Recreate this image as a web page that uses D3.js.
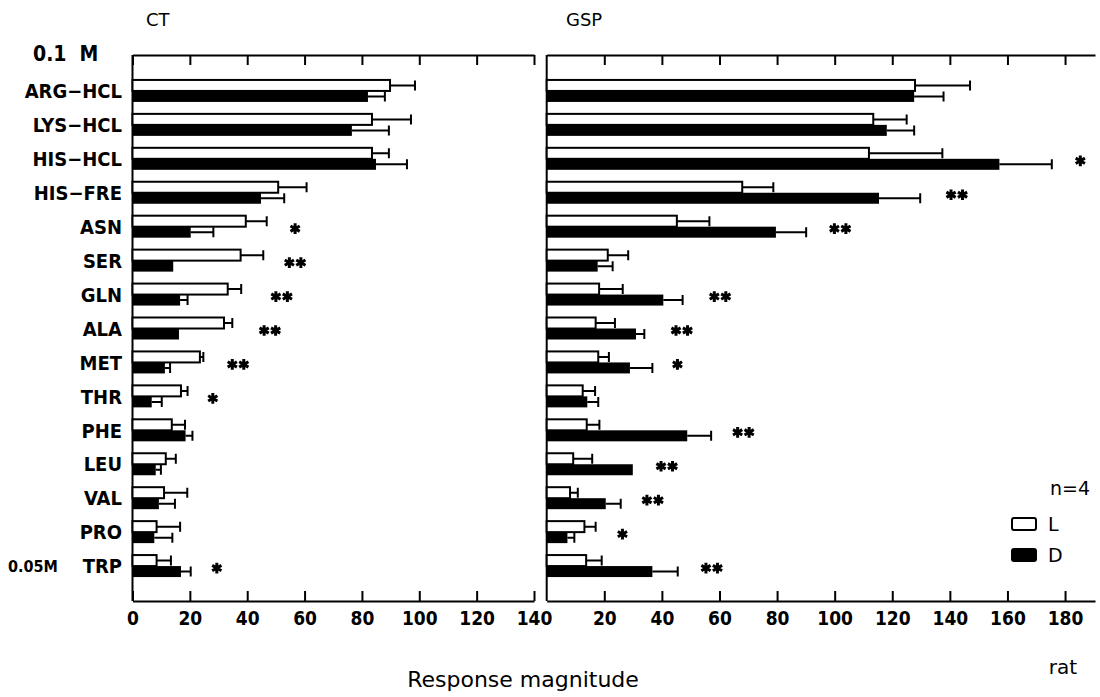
<!DOCTYPE html>
<html>
<head>
<meta charset="utf-8">
<script src="https://cdn.jsdelivr.net/npm/d3@7"></script>
<style>
  body { margin: 0; background: #fff; }
  svg { font-family: "DejaVu Sans", "Liberation Sans", Arial, sans-serif; }
  .cond { font-family: "DejaVu Sans Condensed", "DejaVu Sans", sans-serif; font-weight: bold; }
</style>
</head>
<body>
<div id="chart"></div>
<script>
// amino acid stimuli, top to bottom
const categories = ["ARG−HCL", "LYS−HCL", "HIS−HCL", "HIS−FRE", "ASN", "SER", "GLN", "ALA",
  "MET", "THR", "PHE", "LEU", "VAL", "PRO", "TRP"];

// CT responses (mean and SEM), L and D forms
const ctL    = [89.8, 83.5, 83.5, 50.8, 39.5, 37.7, 33.2, 31.9, 23.5, 16.9, 13.7, 11.6, 11.0, 8.4, 8.4];
const ctLSem = [8.7, 13.6, 5.9, 9.9, 7.3, 7.9, 4.7, 2.9, 1.2, 2.3, 4.6, 3.5, 8.1, 8.2, 5.0];
const ctD    = [82.1, 76.5, 84.9, 44.8, 20.3, 14.2, 16.6, 16.2, 11.3, 6.7, 18.5, 8.1, 9.2, 7.6, 16.9];
const ctDSem = [5.9, 12.9, 10.8, 8.1, 7.9, 0, 2.6, 0, 1.8, 3.5, 2.4, 1.8, 5.6, 6.3, 3.4];

// GSP responses
const gspL    = [127.9, 113.4, 111.9, 67.9, 45.2, 21.2, 18.2, 17.0, 17.9, 12.5, 13.9, 9.2, 8.1, 13.1, 13.7];
const gspLSem = [19.1, 11.6, 25.5, 10.8, 11.3, 7.1, 8.2, 6.7, 3.7, 4.3, 4.4, 6.6, 2.7, 3.9, 5.4];
const gspD    = [127.6, 118.1, 157.2, 115.4, 79.6, 17.7, 40.5, 31.0, 28.9, 14.1, 48.8, 29.9, 20.5, 7.2, 36.7];
const gspDSem = [10.2, 9.5, 18.2, 14.3, 10.5, 5.2, 6.7, 2.9, 7.8, 3.8, 8.3, 0, 5.2, 2.4, 8.8];

// significance marks and where they sit (response units)
const ctSig    = ["", "", "", "", "*", "**", "**", "**", "**", "*", "", "", "", "", "*"];
const ctSigAt  = [0, 0, 0, 0, 56.7, 56.7, 52.0, 47.9, 36.8, 28.0, 0, 0, 0, 0, 29.4];
const gspSig   = ["", "", "*", "**", "**", "", "**", "**", "*", "", "**", "**", "**", "*", "**"];
const gspSigAt = [0, 0, 185.3, 142.4, 101.9, 0, 60.2, 46.9, 45.4, 0, 68.3, 41.7, 36.8, 26.3, 57.3];

const ctTicks  = [0, 20, 40, 60, 80, 100, 120, 140];
const gspTicks = [20, 40, 60, 80, 100, 120, 140, 160, 180];

const width = 1100, height = 697;
const yTop = 55, yBottom = 601;
const barH = 11;

const svg = d3.select("#chart").append("svg")
  .attr("width", width)
  .attr("height", height);

const y = d3.scalePoint()
  .domain(categories)
  .range([yTop + 2, yBottom - 1])
  .padding(1);

const xCT = d3.scaleLinear().domain([0, 140]).range([132.5, 534]);
const xGSP = d3.scaleLinear().domain([0, 190.4]).range([546.7, 1095]);

function panel(x, ticks, L, LSem, D, DSem, sig, sigAt) {
  const g = svg.append("g");

  // frame: left edge plus top and bottom axes with inward ticks
  g.append("line")
    .attr("x1", x(0)).attr("x2", x(0))
    .attr("y1", yTop).attr("y2", yBottom)
    .attr("stroke", "#000").attr("stroke-width", 2);

  const axTop = g.append("g")
    .attr("transform", `translate(0,${yTop})`)
    .call(d3.axisTop(x).tickValues(ticks).tickSizeInner(-10).tickSizeOuter(0).tickFormat(""));
  const axBot = g.append("g")
    .attr("transform", `translate(0,${yBottom})`)
    .call(d3.axisBottom(x).tickValues(ticks).tickSizeInner(-10).tickSizeOuter(0).tickPadding(11));
  [axTop, axBot].forEach(a => {
    a.attr("font-family", null).attr("font-size", null);
    a.select(".domain").attr("stroke-width", 2);
    a.selectAll(".tick line").attr("stroke-width", 2);
    a.selectAll(".tick text")
      .attr("class", "cond")
      .style("font-size", "19px")
      .attr("fill", "#000");
  });

  const rows = categories.map((c, i) => ({
    c, l: L[i], ls: LSem[i], d: D[i], ds: DSem[i], sig: sig[i], at: sigAt[i]
  }));

  const row = g.selectAll("g.row").data(rows).enter().append("g")
    .attr("class", "row")
    .attr("transform", d => `translate(0,${y(d.c)})`);

  // error bars (drawn first, bars on top)
  function err(sel, val, sem, cy) {
    sel.filter(d => d[sem] > 0).append("path")
      .attr("d", d => `M${x(d[val])},${cy}H${x(d[val] + d[sem])}M${x(d[val] + d[sem])},${cy - 5}V${cy + 5}`)
      .attr("fill", "none")
      .attr("stroke", "#000")
      .attr("stroke-width", 2);
  }
  err(row, "l", "ls", -barH / 2);
  err(row, "d", "ds", barH / 2);

  row.append("rect")
    .attr("x", x(0))
    .attr("y", -barH)
    .attr("width", d => x(d.l) - x(0))
    .attr("height", barH)
    .attr("fill", "#fff")
    .attr("stroke", "#000")
    .attr("stroke-width", 2);

  row.append("rect")
    .attr("x", x(0))
    .attr("y", 0)
    .attr("width", d => x(d.d) - x(0))
    .attr("height", barH)
    .attr("fill", "#000");

  // asterisks
  const star = d3.symbol().type(d3.symbolAsterisk).size(80);
  row.filter(d => d.sig).each(function (d) {
    const n = d.sig.length;
    for (let k = 0; k < n; k++) {
      d3.select(this).append("path")
        .attr("d", star())
        .attr("transform", `translate(${x(d.at) + (k - (n - 1) / 2) * 11.5},2)`)
        .attr("fill", "none")
        .attr("stroke", "#000")
        .attr("stroke-width", 3);
    }
  });
}

panel(xCT, ctTicks, ctL, ctLSem, ctD, ctDSem, ctSig, ctSigAt);
panel(xGSP, gspTicks, gspL, gspLSem, gspD, gspDSem, gspSig, gspSigAt);

// category labels
svg.append("g").selectAll("text")
  .data(categories).enter().append("text")
  .attr("class", "cond")
  .attr("x", 122)
  .attr("y", d => y(d))
  .attr("dy", "0.36em")
  .attr("text-anchor", "end")
  .style("font-size", "20px")
  .text(d => d);

function label(txt, x, yy, size, opts = {}) {
  return svg.append("text")
    .attr("class", opts.bold ? "cond" : null)
    .attr("x", x).attr("y", yy)
    .style("font-size", size + "px")
    .style("white-space", "pre")
    .attr("text-anchor", opts.anchor || "start")
    .attr("dy", "0.36em")
    .text(txt);
}

label("0.1  M", 33, 53, 21, { bold: true });
label("0.05M", 8, y("TRP"), 16, { bold: true });
label("CT", 146, 20, 18);
label("GSP", 566, 20, 18);
label("Response magnitude", 523, 679, 22, { anchor: "middle" });
label("rat", 1063, 667, 20, { anchor: "middle" });

// legend
label("n=4", 1070, 488, 19, { anchor: "middle" });
svg.append("rect")
  .attr("x", 1012).attr("y", 518).attr("width", 24).attr("height", 12)
  .attr("rx", 2)
  .attr("fill", "#fff").attr("stroke", "#000").attr("stroke-width", 2);
svg.append("rect")
  .attr("x", 1011).attr("y", 548).attr("width", 26).attr("height", 14)
  .attr("rx", 3)
  .attr("fill", "#000");
label("L", 1048, 524, 19);
label("D", 1048, 555, 19);
</script>
</body>
</html>
